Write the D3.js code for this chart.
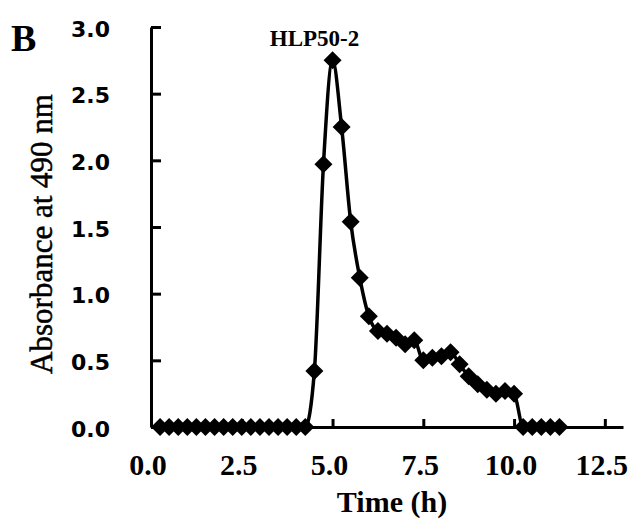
<!DOCTYPE html>
<html>
    <head>
        <meta charset="utf-8">
        <script src="https://cdn.jsdelivr.net/npm/d3@7"></script>
        <style>
            body { margin: 0; background: white; }
        </style>
        <script>
            // fraction times (h) and absorbance readings
            var times = [0.25, 0.5, 0.75, 1.0, 1.25, 1.5, 1.75, 2.0, 2.25, 2.5, 2.75, 3.0,
                         3.25, 3.5, 3.75, 4.0, 4.25, 4.5, 4.75, 5.0, 5.25, 5.5, 5.75, 6.0,
                         6.25, 6.5, 6.75, 7.0, 7.25, 7.5, 7.75, 8.0, 8.25, 8.5, 8.75, 9.0,
                         9.25, 9.5, 9.75, 10.0, 10.25, 10.5, 10.75, 11.0, 11.25];
            var absorbance = [0, 0, 0, 0, 0, 0, 0, 0, 0, 0, 0, 0,
                              0, 0, 0, 0, 0, 0.42, 1.97, 2.75, 2.25, 1.54, 1.12, 0.83,
                              0.72, 0.70, 0.67, 0.62, 0.65, 0.50, 0.52, 0.53, 0.56, 0.47, 0.38, 0.32,
                              0.28, 0.25, 0.27, 0.25, 0, 0, 0, 0, 0];
            var xTicks = [0, 2.5, 5.0, 7.5, 10.0, 12.5];
            var yTicks = [0, 0.5, 1.0, 1.5, 2.0, 2.5, 3.0];
            var peakLabel = "HLP50-2";
            var peakTime = 5.0;

            function makeSVG() {
                var svg = d3.select("#fig");
                var left = 151, right = 623, top = 27, bottom = 427;

                var scX = d3.scaleLinear().domain([0, 13]).range([left, right]);
                var scY = d3.scaleLinear().domain([0, 3]).range([bottom, top]);

                var d = times.map((t, i) => [t, absorbance[i]]);

                // axes
                var gx = svg.append("g")
                    .attr("transform", "translate(0," + bottom + ")")
                    .call(d3.axisBottom(scX).tickValues(xTicks).tickSizeInner(-8).tickSizeOuter(0).tickFormat(""));
                var gy = svg.append("g")
                    .attr("transform", "translate(" + left + ",0)")
                    .call(d3.axisLeft(scY).tickValues(yTicks).tickSizeInner(-10).tickSizeOuter(0).tickFormat(""));

                [gx, gy].forEach(g => {
                    g.select(".domain").attr("stroke", "black").attr("stroke-width", 3);
                    g.selectAll(".tick line").attr("stroke", "black").attr("stroke-width", 3);
                });

                // tick labels
                svg.append("g")
                   .selectAll("text").data(xTicks)
                   .enter()
                   .append("text")
                   .attr("x", v => scX(v) - 3)
                   .attr("y", bottom + 48)
                   .attr("text-anchor", "middle")
                   .attr("font-family", "'Liberation Serif', 'Times New Roman', serif")
                   .attr("font-weight", "bold")
                   .attr("font-size", "30px")
                   .text(v => v.toFixed(1));

                svg.append("g")
                   .selectAll("text").data(yTicks)
                   .enter()
                   .append("text")
                   .attr("x", 110)
                   .attr("y", v => scY(v) + 2)
                   .attr("dy", "0.35em")
                   .attr("text-anchor", "end")
                   .attr("font-family", "'DejaVu Sans', Verdana, sans-serif")
                   .attr("font-weight", "bold")
                   .attr("font-size", "22px")
                   .text(v => v.toFixed(1));

                // axis titles
                svg.append("text")
                   .attr("x", 392)
                   .attr("y", 512)
                   .attr("text-anchor", "middle")
                   .attr("font-family", "'Liberation Serif', 'Times New Roman', serif")
                   .attr("font-weight", "bold")
                   .attr("font-size", "30px")
                   .text("Time (h)");

                svg.append("text")
                   .attr("transform", "translate(52,234) rotate(-90)")
                   .attr("text-anchor", "middle")
                   .attr("font-family", "'Liberation Serif', 'Times New Roman', serif")
                   .attr("font-size", "31px")
                   .attr("stroke", "black")
                   .attr("stroke-width", 0.5)
                   .text("Absorbance at 490 nm");

                svg.append("text")
                   .attr("x", 11)
                   .attr("y", 51)
                   .attr("font-family", "'Liberation Serif', 'Times New Roman', serif")
                   .attr("font-weight", "bold")
                   .attr("font-size", "38px")
                   .text("B");

                // line and diamonds
                var lineMkr = d3.line()
                    .x(p => scX(p[0]))
                    .y(p => scY(p[1]))
                    .curve(d3.curveMonotoneX);

                svg.append("path")
                   .attr("d", lineMkr(d))
                   .attr("fill", "none")
                   .attr("stroke", "black")
                   .attr("stroke-width", 3.5)
                   .attr("stroke-linejoin", "round");

                var h = 9;
                svg.append("g")
                   .selectAll("path").data(d)
                   .enter()
                   .append("path")
                   .attr("transform", p => "translate(" + scX(p[0]) + "," + scY(p[1]) + ")")
                   .attr("d", "M0," + (-h) + "L" + h + ",0L0," + h + "L" + (-h) + ",0Z")
                   .attr("fill", "black");

                // peak label
                svg.append("text")
                   .attr("x", scX(peakTime) - 18)
                   .attr("y", 46)
                   .attr("text-anchor", "middle")
                   .attr("font-family", "'Liberation Serif', 'Times New Roman', serif")
                   .attr("font-weight", "bold")
                   .attr("font-size", "23px")
                   .text(peakLabel);
            }
        </script>
    </head>
    <body onload="makeSVG()">
        <svg id="fig" width="635" height="520"></svg>
    </body>
</html>
